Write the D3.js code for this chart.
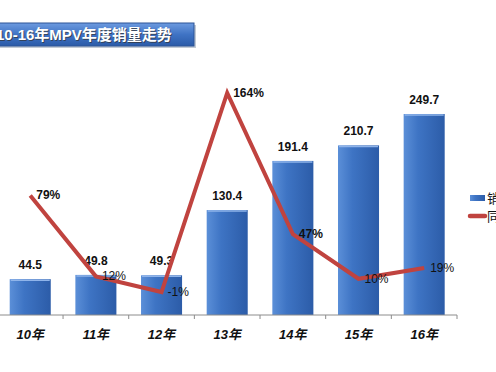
<!DOCTYPE html>
<html>
<head>
<meta charset="utf-8">
<script src="https://cdn.jsdelivr.net/npm/d3@7"></script>
<style>
  body { margin: 0; background: #fff; }
  svg { display: block; }
</style>
</head>
<body>
<div class="chart"></div>
<script>
const width = 496, height = 372;

// data
const years = ['10年', '11年', '12年', '13年', '14年', '15年', '16年'];
const sales = [44.5, 49.8, 49.3, 130.4, 191.4, 210.7, 249.7];
const growth = [79, 12, -1, 164, 47, 10, 19];
const legendNames = ['销量', '同比'];
const title = '10-16年MPV年度销量走势';

const font = '"Liberation Sans", Arial, "Noto Sans CJK SC", sans-serif';

const svg = d3.select('.chart').append('svg')
	.attr('width', width)
	.attr('height', height)
	.style('font-family', font);

const defs = svg.append('defs');

var barGrad = defs.append('linearGradient').attr('id', 'barGrad')
	.attr('x1', 0).attr('x2', 1).attr('y1', 0).attr('y2', 0);
barGrad.append('stop').attr('offset', '0%').attr('stop-color', '#5b8fd8');
barGrad.append('stop').attr('offset', '35%').attr('stop-color', '#3e74c4');
barGrad.append('stop').attr('offset', '100%').attr('stop-color', '#2c5ca8');

var titleGrad = defs.append('linearGradient').attr('id', 'titleGrad')
	.attr('x1', 0).attr('x2', 0).attr('y1', 0).attr('y2', 1);
titleGrad.append('stop').attr('offset', '0%').attr('stop-color', '#6d9be0');
titleGrad.append('stop').attr('offset', '50%').attr('stop-color', '#3f73c4');
titleGrad.append('stop').attr('offset', '100%').attr('stop-color', '#2b5ba8');

// scales
const x = d3.scaleBand().domain(years).range([-2.6, 457]).padding(0);
const y = d3.scaleLinear().domain([0, 300]).range([315, 73.5]);
const y2 = d3.scaleLinear().domain([-20, 180]).range([315, 73.5]);
const barW = x.bandwidth() * 0.625;

// title banner
svg.append('rect')
	.attr('x', -6).attr('y', 25).attr('width', 202).attr('height', 23)
	.attr('fill', '#9aa6b8').attr('opacity', 0.6);
svg.append('rect')
	.attr('x', -6).attr('y', 23).attr('width', 200).attr('height', 23)
	.attr('fill', 'url(#titleGrad)')
	.attr('stroke', '#2d5597').attr('stroke-width', 1);
svg.append('text')
	.attr('x', -4).attr('y', 40)
	.attr('fill', '#333').attr('opacity', 0.7)
	.attr('font-size', 15).attr('font-weight', 'bold')
	.attr('transform', 'translate(1,1)')
	.text(title);
svg.append('text')
	.attr('x', -4).attr('y', 40)
	.attr('fill', '#fff')
	.attr('font-size', 15).attr('font-weight', 'bold')
	.text(title);

// bars
const bars = svg.append('g');
bars.selectAll('rect')
	.data(sales)
	.enter().append('rect')
	.attr('x', (d, i) => x(years[i]) + (x.bandwidth() - barW) / 2)
	.attr('y', d => y(d))
	.attr('width', barW)
	.attr('height', d => y(0) - y(d))
	.attr('fill', 'url(#barGrad)');
bars.selectAll('line')
	.data(sales)
	.enter().append('line')
	.attr('x1', (d, i) => x(years[i]) + (x.bandwidth() - barW) / 2 + 1)
	.attr('x2', (d, i) => x(years[i]) + (x.bandwidth() + barW) / 2 - 1)
	.attr('y1', d => y(d) + 1)
	.attr('y2', d => y(d) + 1)
	.attr('stroke', '#8fb4ea').attr('stroke-width', 1.5);

// bar labels
svg.append('g').selectAll('text')
	.data(sales)
	.enter().append('text')
	.attr('x', (d, i) => x(years[i]) + x.bandwidth() / 2)
	.attr('y', d => y(d) - 10)
	.attr('text-anchor', 'middle')
	.attr('font-size', 12).attr('font-weight', 'bold')
	.attr('fill', '#111')
	.text(d => d.toFixed(1));

// x axis
const axis = svg.append('g').attr('transform', 'translate(0,315)');
axis.append('line')
	.attr('x1', -3).attr('x2', 457)
	.attr('stroke', '#8c8c8c');
axis.selectAll('line.tick')
	.data(years)
	.enter().append('line')
	.attr('class', 'tick')
	.attr('x1', d => x(d) + x.bandwidth())
	.attr('x2', d => x(d) + x.bandwidth())
	.attr('y1', 0).attr('y2', 4)
	.attr('stroke', '#8c8c8c');
axis.selectAll('text')
	.data(years)
	.enter().append('text')
	.attr('x', d => x(d) + x.bandwidth() / 2)
	.attr('y', 24)
	.attr('text-anchor', 'middle')
	.attr('font-size', 13).attr('font-weight', 'bold').attr('font-style', 'italic')
	.attr('fill', '#111')
	.text(d => d);

// growth line
const line = d3.line()
	.x((d, i) => x(years[i]) + x.bandwidth() / 2)
	.y(d => y2(d));
svg.append('path')
	.datum(growth)
	.attr('d', line)
	.attr('fill', 'none')
	.attr('stroke', '#c0433f')
	.attr('stroke-width', 4)
	.attr('stroke-linejoin', 'miter');

svg.append('g').selectAll('text')
	.data(growth)
	.enter().append('text')
	.attr('x', (d, i) => x(years[i]) + x.bandwidth() / 2 + 6)
	.attr('y', d => y2(d) + 4)
	.attr('font-size', 12)
	.attr('font-weight', (d, i) => (i === 0 || i === 3 || i === 4) ? 'bold' : 'normal')
	.attr('fill', '#111')
	.text(d => d + '%');

// legend (cut at the right edge, as in the original)
const legend = svg.append('g').attr('transform', 'translate(470,198)');
legend.append('rect')
	.attr('x', 0).attr('y', -3).attr('width', 15).attr('height', 6)
	.attr('fill', 'url(#barGrad)');
legend.append('line')
	.attr('x1', 0).attr('x2', 15).attr('y1', 18).attr('y2', 18)
	.attr('stroke', '#c0433f').attr('stroke-width', 4.5)
	.attr('stroke-linecap', 'round');
legend.selectAll('text')
	.data(legendNames)
	.enter().append('text')
	.attr('x', 17)
	.attr('y', (d, i) => i * 18 + 5)
	.attr('font-size', 13)
	.attr('fill', '#111')
	.text(d => d);
</script>
</body>
</html>
